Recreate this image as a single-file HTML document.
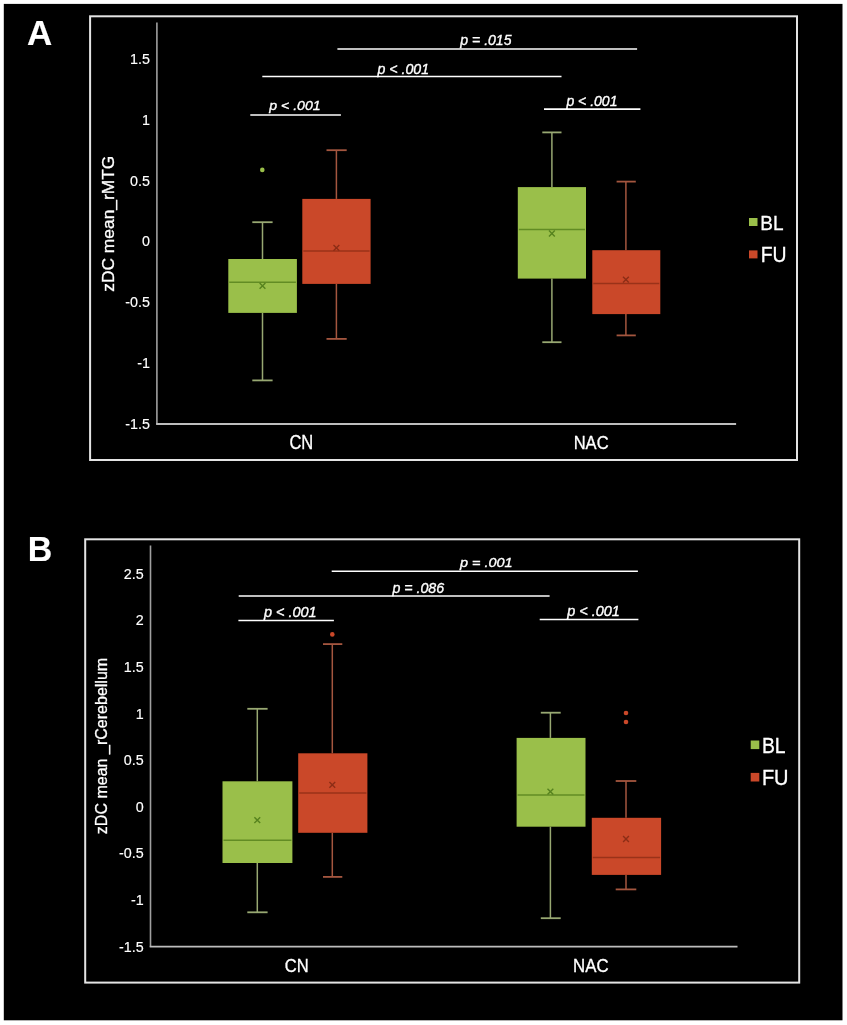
<!DOCTYPE html>
<html><head><meta charset="utf-8"><style>
html,body{margin:0;padding:0;background:#fff;width:847px;height:1025px;overflow:hidden;}
svg{display:block;will-change:transform;}
text{font-family:"Liberation Sans",sans-serif;fill:#ffffff;stroke:#ffffff;stroke-width:0.15px;}
</style></head><body>
<svg width="847" height="1025" viewBox="0 0 847 1025">
<rect x="3.8" y="3.9" width="838.7" height="1016.4" fill="#000"/>
<text transform="translate(26.93,45.00) scale(0.9999,1)" font-size="34.93" font-weight="bold" font-style="normal">A</text>
<rect x="90.1" y="16.3" width="706.9" height="443.7" fill="none" stroke="#e4e4e4" stroke-width="2"/>
<line x1="156.9" y1="22.5" x2="156.9" y2="423.8" stroke="#a0a0a0" stroke-width="1.6"/>
<line x1="156.1" y1="424.0" x2="736.1" y2="424.0" stroke="#bdbdbd" stroke-width="1.8"/>
<text x="149.9" y="63.9" font-size="14.3" text-anchor="end">1.5</text>
<text x="149.9" y="124.7" font-size="14.3" text-anchor="end">1</text>
<text x="149.9" y="185.5" font-size="14.3" text-anchor="end">0.5</text>
<text x="149.9" y="246.3" font-size="14.3" text-anchor="end">0</text>
<text x="149.9" y="307.1" font-size="14.3" text-anchor="end">-0.5</text>
<text x="149.9" y="367.9" font-size="14.3" text-anchor="end">-1</text>
<text x="149.9" y="428.7" font-size="14.3" text-anchor="end">-1.5</text>
<text transform="translate(114.0,291.7) rotate(-90)" font-size="17" textLength="136.0" lengthAdjust="spacingAndGlyphs" style="stroke-width:0.3px">zDC mean_rMTG</text>
<text transform="translate(289.38,449.40) scale(0.8550,1)" font-size="19.29" font-weight="normal" font-style="normal" style="stroke-width:0.3px">CN</text>
<text transform="translate(573.68,449.20) scale(0.8971,1)" font-size="18.43" font-weight="normal" font-style="normal" style="stroke-width:0.3px">NAC</text>
<rect x="749" y="218" width="8.5" height="8" fill="#9abf4a"/>
<rect x="749" y="250.4" width="8.5" height="8" fill="#ca4829"/>
<text transform="translate(760.28,229.80) scale(0.9046,1)" font-size="21.01" font-weight="normal" font-style="normal" style="stroke-width:0.3px">BL</text>
<text transform="translate(760.65,262.00) scale(0.8986,1)" font-size="21.59" font-weight="normal" font-style="normal" style="stroke-width:0.3px">FU</text>
<line x1="262.5" y1="222.2" x2="262.5" y2="259.0" stroke="#98a872" stroke-width="1.5"/>
<line x1="262.5" y1="312.9" x2="262.5" y2="380.4" stroke="#98a872" stroke-width="1.5"/>
<line x1="252.3" y1="222.2" x2="272.6" y2="222.2" stroke="#98a872" stroke-width="1.8"/>
<line x1="252.3" y1="380.4" x2="272.6" y2="380.4" stroke="#98a872" stroke-width="1.8"/>
<rect x="228.3" y="259.0" width="68.6" height="53.9" fill="#9abf4a"/>
<line x1="229.3" y1="282.3" x2="295.9" y2="282.3" stroke="#628c24" stroke-width="1.5"/>
<path d="M259.6 282.9L265.4 288.7M265.4 282.9L259.6 288.7" stroke="#56821e" stroke-width="1.4"/>
<circle cx="262.3" cy="169.9" r="2.3" fill="#9abf4a"/>
<line x1="336.4" y1="150.2" x2="336.4" y2="198.9" stroke="#a4563f" stroke-width="1.5"/>
<line x1="336.4" y1="283.9" x2="336.4" y2="338.9" stroke="#a4563f" stroke-width="1.5"/>
<line x1="326.5" y1="150.2" x2="346.7" y2="150.2" stroke="#a4563f" stroke-width="1.8"/>
<line x1="326.5" y1="338.9" x2="346.7" y2="338.9" stroke="#a4563f" stroke-width="1.8"/>
<rect x="302.3" y="198.9" width="68.3" height="85.0" fill="#ca4829"/>
<line x1="303.3" y1="251.0" x2="369.6" y2="251.0" stroke="#9a3219" stroke-width="1.5"/>
<path d="M333.5 245.0L339.3 250.8M339.3 245.0L333.5 250.8" stroke="#8c2d16" stroke-width="1.4"/>
<line x1="551.9" y1="132.4" x2="551.9" y2="187.1" stroke="#98a872" stroke-width="1.5"/>
<line x1="551.9" y1="278.6" x2="551.9" y2="342.2" stroke="#98a872" stroke-width="1.5"/>
<line x1="542.3" y1="132.4" x2="561.5" y2="132.4" stroke="#98a872" stroke-width="1.8"/>
<line x1="542.3" y1="342.2" x2="561.5" y2="342.2" stroke="#98a872" stroke-width="1.8"/>
<rect x="517.8" y="187.1" width="68.2" height="91.5" fill="#9abf4a"/>
<line x1="518.8" y1="229.5" x2="585.0" y2="229.5" stroke="#628c24" stroke-width="1.5"/>
<path d="M549.0 230.6L554.8 236.4M554.8 230.6L549.0 236.4" stroke="#56821e" stroke-width="1.4"/>
<line x1="625.9" y1="181.6" x2="625.9" y2="250.2" stroke="#a4563f" stroke-width="1.5"/>
<line x1="625.9" y1="314.1" x2="625.9" y2="335.4" stroke="#a4563f" stroke-width="1.5"/>
<line x1="616.6" y1="181.6" x2="635.8" y2="181.6" stroke="#a4563f" stroke-width="1.8"/>
<line x1="616.6" y1="335.4" x2="635.8" y2="335.4" stroke="#a4563f" stroke-width="1.8"/>
<rect x="592.3" y="250.2" width="68.0" height="63.9" fill="#ca4829"/>
<line x1="593.3" y1="283.4" x2="659.3" y2="283.4" stroke="#9a3219" stroke-width="1.5"/>
<path d="M623.0 276.8L628.8 282.6M628.8 276.8L623.0 282.6" stroke="#8c2d16" stroke-width="1.4"/>
<line x1="250.3" y1="114.9" x2="340.9" y2="114.9" stroke="#ffffff" stroke-width="1.55"/>
<text transform="translate(269.20,109.67) scale(1.0470,1)" font-size="13.50" font-weight="normal" font-style="italic" style="stroke-width:0.35px">p &lt; .001</text>
<line x1="544.0" y1="109.1" x2="640.4" y2="109.1" stroke="#ffffff" stroke-width="1.55"/>
<text transform="translate(566.40,105.67) scale(0.9576,1)" font-size="14.64" font-weight="normal" font-style="italic" style="stroke-width:0.35px">p &lt; .001</text>
<line x1="262.3" y1="76.4" x2="561.5" y2="76.4" stroke="#ffffff" stroke-width="1.55"/>
<text transform="translate(377.50,73.58) scale(0.9691,1)" font-size="14.64" font-weight="normal" font-style="italic" style="stroke-width:0.35px">p &lt; .001</text>
<line x1="337.4" y1="48.9" x2="637.1" y2="48.9" stroke="#ffffff" stroke-width="1.55"/>
<text transform="translate(460.30,44.97) scale(1.0094,1)" font-size="13.93" font-weight="normal" font-style="italic" style="stroke-width:0.35px">p = .015</text>
<text transform="translate(27.69,560.50) scale(0.9756,1)" font-size="34.78" font-weight="bold" font-style="normal">B</text>
<rect x="85.2" y="539.3" width="714" height="443.3" fill="none" stroke="#e4e4e4" stroke-width="2"/>
<line x1="150.5" y1="545.5" x2="150.5" y2="946.7" stroke="#a0a0a0" stroke-width="1.6"/>
<line x1="149.7" y1="946.7" x2="737.5" y2="946.7" stroke="#bdbdbd" stroke-width="1.8"/>
<text x="143.6" y="578.7" font-size="14.3" text-anchor="end">2.5</text>
<text x="143.6" y="625.32" font-size="14.3" text-anchor="end">2</text>
<text x="143.6" y="671.94" font-size="14.3" text-anchor="end">1.5</text>
<text x="143.6" y="718.56" font-size="14.3" text-anchor="end">1</text>
<text x="143.6" y="765.18" font-size="14.3" text-anchor="end">0.5</text>
<text x="143.6" y="811.8" font-size="14.3" text-anchor="end">0</text>
<text x="143.6" y="858.42" font-size="14.3" text-anchor="end">-0.5</text>
<text x="143.6" y="905.04" font-size="14.3" text-anchor="end">-1</text>
<text x="143.6" y="951.66" font-size="14.3" text-anchor="end">-1.5</text>
<text transform="translate(107.1,834.2) rotate(-90)" font-size="16" textLength="176.4" lengthAdjust="spacingAndGlyphs" style="stroke-width:0.3px">zDC mean _rCerebellum</text>
<text transform="translate(284.87,972.30) scale(0.8851,1)" font-size="18.71" font-weight="normal" font-style="normal" style="stroke-width:0.3px">CN</text>
<text transform="translate(573.05,972.30) scale(0.8995,1)" font-size="18.71" font-weight="normal" font-style="normal" style="stroke-width:0.3px">NAC</text>
<rect x="750.7" y="740.5" width="8.6" height="8.6" fill="#9abf4a"/>
<rect x="750.7" y="772.9" width="8.6" height="8.6" fill="#ca4829"/>
<text transform="translate(761.95,752.60) scale(0.9030,1)" font-size="21.45" font-weight="normal" font-style="normal" style="stroke-width:0.3px">BL</text>
<text transform="translate(761.90,785.30) scale(0.9020,1)" font-size="22.17" font-weight="normal" font-style="normal" style="stroke-width:0.3px">FU</text>
<line x1="257.3" y1="708.8" x2="257.3" y2="781.3" stroke="#98a872" stroke-width="1.5"/>
<line x1="257.3" y1="863.0" x2="257.3" y2="912.3" stroke="#98a872" stroke-width="1.5"/>
<line x1="247.3" y1="708.8" x2="267.6" y2="708.8" stroke="#98a872" stroke-width="1.8"/>
<line x1="247.3" y1="912.3" x2="267.6" y2="912.3" stroke="#98a872" stroke-width="1.8"/>
<rect x="222.5" y="781.3" width="69.9" height="81.7" fill="#9abf4a"/>
<line x1="223.5" y1="840.3" x2="291.4" y2="840.3" stroke="#628c24" stroke-width="1.5"/>
<path d="M254.4 817.3L260.2 823.1M260.2 817.3L254.4 823.1" stroke="#56821e" stroke-width="1.4"/>
<line x1="332.3" y1="644.1" x2="332.3" y2="753.3" stroke="#a4563f" stroke-width="1.5"/>
<line x1="332.3" y1="832.8" x2="332.3" y2="876.9" stroke="#a4563f" stroke-width="1.5"/>
<line x1="323.0" y1="644.1" x2="342.3" y2="644.1" stroke="#a4563f" stroke-width="1.8"/>
<line x1="323.0" y1="876.9" x2="342.3" y2="876.9" stroke="#a4563f" stroke-width="1.8"/>
<rect x="298.2" y="753.3" width="69.2" height="79.5" fill="#ca4829"/>
<line x1="299.2" y1="792.9" x2="366.4" y2="792.9" stroke="#9a3219" stroke-width="1.5"/>
<path d="M329.4 781.9L335.2 787.7M335.2 781.9L329.4 787.7" stroke="#8c2d16" stroke-width="1.4"/>
<circle cx="332.3" cy="634.4" r="2.3" fill="#ca4829"/>
<line x1="550.4" y1="712.7" x2="550.4" y2="737.9" stroke="#98a872" stroke-width="1.5"/>
<line x1="550.4" y1="826.7" x2="550.4" y2="918.2" stroke="#98a872" stroke-width="1.5"/>
<line x1="540.8" y1="712.7" x2="560.7" y2="712.7" stroke="#98a872" stroke-width="1.8"/>
<line x1="540.8" y1="918.2" x2="560.7" y2="918.2" stroke="#98a872" stroke-width="1.8"/>
<rect x="516.6" y="737.9" width="68.9" height="88.8" fill="#9abf4a"/>
<line x1="517.6" y1="795.0" x2="584.5" y2="795.0" stroke="#628c24" stroke-width="1.5"/>
<path d="M547.5 788.7L553.3 794.5M553.3 788.7L547.5 794.5" stroke="#56821e" stroke-width="1.4"/>
<line x1="626.0" y1="781.0" x2="626.0" y2="817.8" stroke="#a4563f" stroke-width="1.5"/>
<line x1="626.0" y1="874.9" x2="626.0" y2="889.4" stroke="#a4563f" stroke-width="1.5"/>
<line x1="615.7" y1="781.0" x2="636.3" y2="781.0" stroke="#a4563f" stroke-width="1.8"/>
<line x1="615.7" y1="889.4" x2="636.3" y2="889.4" stroke="#a4563f" stroke-width="1.8"/>
<rect x="591.8" y="817.8" width="69.3" height="57.1" fill="#ca4829"/>
<line x1="592.8" y1="857.6" x2="660.1" y2="857.6" stroke="#9a3219" stroke-width="1.5"/>
<path d="M623.1 836.1L628.9 841.9M628.9 836.1L623.1 841.9" stroke="#8c2d16" stroke-width="1.4"/>
<circle cx="626" cy="713" r="2.3" fill="#ca4829"/>
<circle cx="626" cy="722" r="2.3" fill="#ca4829"/>
<line x1="238.4" y1="620.4" x2="333.9" y2="620.4" stroke="#ffffff" stroke-width="1.55"/>
<text transform="translate(264.01,617.47) scale(0.9979,1)" font-size="14.50" font-weight="normal" font-style="italic" style="stroke-width:0.35px">p &lt; .001</text>
<line x1="539.7" y1="619.5" x2="638.4" y2="619.5" stroke="#ffffff" stroke-width="1.55"/>
<text transform="translate(567.31,615.97) scale(1.0476,1)" font-size="13.79" font-weight="normal" font-style="italic" style="stroke-width:0.35px">p &lt; .001</text>
<line x1="238.7" y1="596.0" x2="549.6" y2="596.0" stroke="#ffffff" stroke-width="1.55"/>
<text transform="translate(392.41,592.67) scale(0.9901,1)" font-size="14.36" font-weight="normal" font-style="italic" style="stroke-width:0.35px">p = .086</text>
<line x1="331.7" y1="571.2" x2="637.9" y2="571.2" stroke="#ffffff" stroke-width="1.55"/>
<text transform="translate(460.01,567.38) scale(1.0585,1)" font-size="13.64" font-weight="normal" font-style="italic" style="stroke-width:0.35px">p = .001</text>
</svg>
</body></html>
